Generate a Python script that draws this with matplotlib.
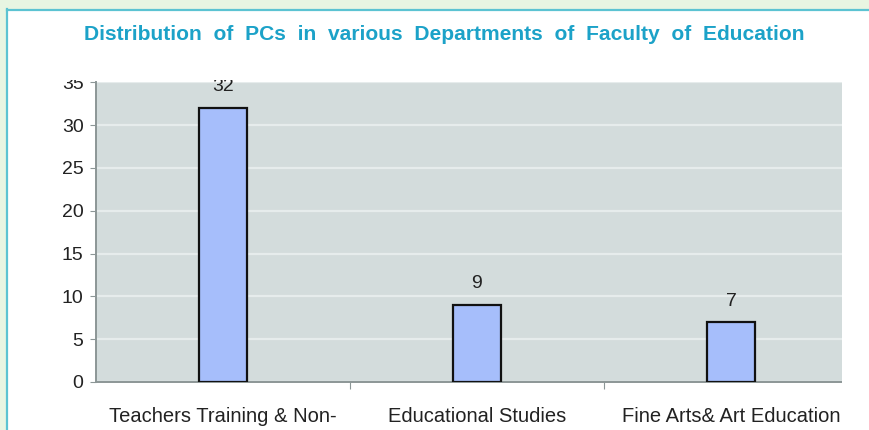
import matplotlib
matplotlib.use("Agg")
import matplotlib.pyplot as plt
from matplotlib.patches import Rectangle
from matplotlib.lines import Line2D

# dados
departments = ["Teachers Training & Non-", "Educational Studies", "Fine Arts& Art Education"]
pcs = [32, 9, 7]
yticks = [0, 5, 10, 15, 20, 25, 30, 35]

TITLE = "Distribution  of  PCs  in  various  Departments  of  Faculty  of  Education"
VERDE_FUNDO = "#e8f5e2"
BORDA = "#5cc3d2"
AZUL_TIT = "#1ca2c8"
BARRA = "#a6befb"
FUNDO_AX = "#d3dcdc"
GRADE = "#e6ecec"
EIXO = "#8c9696"

plt.rcParams["font.family"] = ["Liberation Sans", "DejaVu Sans"]

W, H = 869, 430
fig = plt.figure(figsize=(W / 100, H / 100), dpi=100)
fig.patch.set_facecolor(VERDE_FUNDO)


def fx(px):
    return px / W


def fy(py):
    return 1 - py / H


# painel branco com borda
fig.patches.append(Rectangle((fx(8), 0), 1, fy(10), transform=fig.transFigure,
                             facecolor="white", edgecolor="none", zorder=-5))
fig.add_artist(Line2D([fx(7.5), fx(7.5)], [0, fy(9)], transform=fig.transFigure,
                      color=BORDA, lw=1.6, zorder=20))
fig.add_artist(Line2D([fx(7.5), 1], [fy(9.5), fy(9.5)], transform=fig.transFigure,
                      color=BORDA, lw=1.6, zorder=20))

ax = fig.add_axes([fx(96), fy(382), fx(858) - fx(96), fy(82.2) - fy(382)])
ax.set_facecolor(FUNDO_AX)
x = range(len(departments))
bars = ax.bar(x, pcs, width=0.19, color=BARRA, edgecolor="#111111", linewidth=1.6, zorder=3)
for b, v in zip(bars, pcs):
    ax.annotate(str(v), (b.get_x() + b.get_width() / 2, v), xytext=(0, 9),
                textcoords="offset points", ha="center", va="bottom",
                fontsize=14, color="#222222", annotation_clip=False)

ax.set_xlim(-0.5, len(departments) - 0.5)
ax.set_ylim(0, 35)
ax.set_yticks(yticks)
ax.set_yticklabels([str(t) for t in yticks], fontsize=14, color="#222222")
ax.yaxis.grid(True, color=GRADE, lw=1.6, zorder=0)
ax.set_axisbelow(True)

ax.set_xticks([i + 0.5 for i in range(len(departments) - 1)])
ax.set_xticklabels([])
ax.set_xticks(list(x), minor=True)
ax.set_xticklabels(departments, minor=True, fontsize=14.5, color="#222222")
ax.tick_params(axis="x", which="minor", length=0, pad=18)
ax.tick_params(axis="x", which="major", length=5, color=EIXO)
ax.tick_params(axis="y", length=4, color=EIXO, pad=5)

for s in ("top", "right"):
    ax.spines[s].set_visible(False)
for s in ("left", "bottom"):
    ax.spines[s].set_color(EIXO)
    ax.spines[s].set_linewidth(1.4)

# recortes brancos (a imagem original aparece cortada)
fig.patches.append(Rectangle((fx(8.5), fy(80)), 1, fy(10) - fy(80), transform=fig.transFigure,
                             facecolor="white", edgecolor="none", zorder=10))
fig.patches.append(Rectangle((fx(842), 0), 1, fy(80), transform=fig.transFigure,
                             facecolor="white", edgecolor="none", zorder=10))

fig.text(fx(444), fy(34), TITLE, ha="center", va="center", fontsize=15.1,
         fontweight="bold", color=AZUL_TIT, zorder=15)

fig.savefig("out.png", dpi=100, facecolor=fig.get_facecolor())
